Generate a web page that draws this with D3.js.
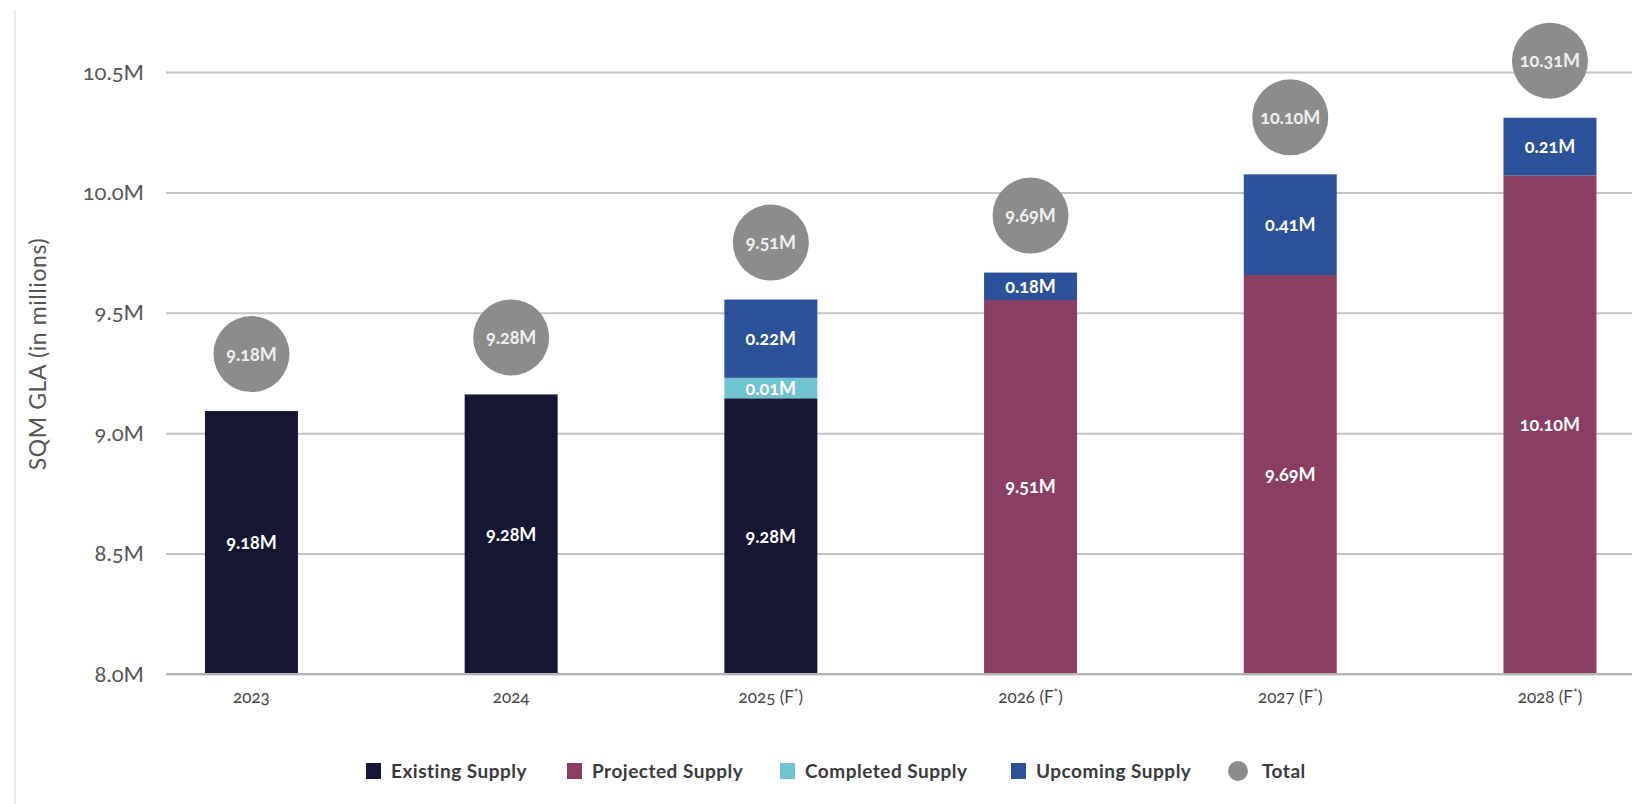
<!DOCTYPE html>
<html>
<head>
<meta charset="utf-8">
<script src="https://cdn.jsdelivr.net/npm/d3@7"></script>
<style>
  body { margin: 0; background: #fff; }
  svg { display: block; font-family: Lato, "Open Sans", sans-serif; font-feature-settings: "onum"; }
</style>
</head>
<body>
<svg width="1632" height="804"></svg>
<script>
const years = ["2023", "2024", "2025", "2026", "2027", "2028"];
const forecast = [false, false, true, true, true, true];

// segment heights as drawn (millions of sqm)
const existing = [9.092, 9.161, 9.145, 0, 0, 0];
const projected = [0, 0, 0, 9.553, 9.657, 10.070];
const completed = [0, 0, 0.085, 0, 0, 0];
const upcoming = [0, 0, 0.325, 0.114, 0.418, 0.240];

// printed labels
const existingLabels = ["9.18M", "9.28M", "9.28M", "", "", ""];
const projectedLabels = ["", "", "", "9.51M", "9.69M", "10.10M"];
const completedLabels = ["", "", "0.01M", "", "", ""];
const upcomingLabels = ["", "", "0.22M", "0.18M", "0.41M", "0.21M"];
const totalLabels = ["9.18M", "9.28M", "9.51M", "9.69M", "10.10M", "10.31M"];

const yTicks = [8.0, 8.5, 9.0, 9.5, 10.0, 10.5];

const keys = ["existing", "projected", "completed", "upcoming"];
const names = { existing: "Existing Supply", projected: "Projected Supply", completed: "Completed Supply", upcoming: "Upcoming Supply" };
const colors = { existing: "#151633", projected: "#8b3e64", completed: "#6fc3d3", upcoming: "#2b5299" };
const labels = { existing: existingLabels, projected: projectedLabels, completed: completedLabels, upcoming: upcomingLabels };
const totalColor = "#8c8c8c";

const data = years.map((year, i) => ({
    year, i,
    existing: existing[i], projected: projected[i],
    completed: completed[i], upcoming: upcoming[i]
}));

const width = 1632;
const height = 804;
const margin = ({ top: 72, right: 0, bottom: 130, left: 166 });

const svg = d3.select("svg")
    .attr("viewBox", [0, 0, width, height]);

const x = d3.scaleBand()
    .domain(years)
    .range([121.6, 1679.8])
    .paddingInner(0.642)
    .paddingOuter(0.321);

const y = d3.scaleLinear()
    .domain([8.0, 10.5])
    .range([height - margin.bottom, margin.top])
    .clamp(true);

// faint frame line on the left
svg.append("line")
    .attr("x1", 15).attr("x2", 15)
    .attr("y1", 10).attr("y2", height)
    .attr("stroke", "#ececec")
    .attr("stroke-width", 2);

// y axis + gridlines
svg.append("g")
    .attr("transform", `translate(${margin.left},0)`)
    .call(d3.axisLeft(y).tickValues(yTicks)
        .tickFormat(d => d3.format(".1f")(d) + "M")
        .tickSize(-(width - margin.left))
        .tickPadding(22))
    .call(g => g.select(".domain").remove())
    .call(g => g.selectAll(".tick line").attr("stroke", "#c4c4c4").attr("stroke-width", 2))
    .call(g => g.selectAll(".tick text")
        .attr("fill", "#555")
        .attr("font-size", 22)
        .attr("font-family", "Lato, sans-serif"));

svg.append("text")
    .attr("transform", `translate(38,354) rotate(-90)`)
    .attr("text-anchor", "middle")
    .attr("dy", "0.35em")
    .attr("fill", "#555")
    .attr("font-size", 23)
    .attr("letter-spacing", 0.6)
    .text("SQM GLA (in millions)");

// stacked bars
const series = d3.stack().keys(keys)(data);

const layer = svg.append("g")
    .selectAll("g")
    .data(series)
    .join("g")
    .attr("fill", d => colors[d.key]);

layer.selectAll("rect")
    .data(d => d.map(s => Object.assign(s, { key: d.key })))
    .join("rect")
    .attr("x", d => x(d.data.year))
    .attr("width", x.bandwidth())
    .attr("y", d => y(d[1]))
    .attr("height", d => Math.max(0, y(d[0]) - y(d[1])));

layer.selectAll("text")
    .data(d => d.filter(s => labels[d.key][s.data.i] !== ""))
    .join("text")
    .attr("x", d => x(d.data.year) + x.bandwidth() / 2)
    .attr("y", d => (y(d[0]) + y(d[1])) / 2)
    .attr("dy", "0.36em")
    .attr("text-anchor", "middle")
    .attr("fill", "#fff")
    .attr("font-size", 18)
    .attr("font-weight", 700)
    .text(d => labels[d.key][d.data.i]);

// total bubbles
const topLayer = series[series.length - 1];
const bubble = svg.append("g")
    .selectAll("g")
    .data(topLayer)
    .join("g")
    .attr("transform", d => `translate(${x(d.data.year) + x.bandwidth() / 2},${y(d[1]) - 57})`);

bubble.append("circle")
    .attr("r", 38)
    .attr("fill", totalColor);

bubble.append("text")
    .attr("text-anchor", "middle")
    .attr("dy", "0.36em")
    .attr("fill", "#f0f0f0")
    .attr("font-size", 18)
    .attr("font-weight", 700)
    .text(d => totalLabels[d.data.i]);

// x axis
const gx = svg.append("g")
    .attr("transform", `translate(0,${y(8.0)})`);

gx.append("line")
    .attr("x1", margin.left).attr("x2", width)
    .attr("stroke", "#b4b4b4").attr("stroke-width", 2);

const xt = gx.selectAll("text")
    .data(years)
    .join("text")
    .attr("x", d => x(d) + x.bandwidth() / 2)
    .attr("y", 23)
    .attr("dy", "0.35em")
    .attr("text-anchor", "middle")
    .attr("fill", "#444")
    .attr("font-size", 17)
    .text(d => d);

xt.filter((d, i) => forecast[i]).each(function () {
    const t = d3.select(this);
    t.append("tspan").text(" (F");
    t.append("tspan").text("*").attr("font-size", 11).attr("baseline-shift", "super");
    t.append("tspan").text(")");
});

// legend
const legendItems = keys.map(k => ({ name: names[k], color: colors[k], shape: "rect" }))
    .concat([{ name: "Total", color: totalColor, shape: "circle" }]);
const legendX = [366, 567, 780, 1011, 1229];

const legend = svg.append("g")
    .attr("transform", "translate(0,771)")
    .selectAll("g")
    .data(legendItems)
    .join("g")
    .attr("transform", (d, i) => `translate(${legendX[i]},0)`);

legend.filter(d => d.shape === "rect").append("rect")
    .attr("y", -8).attr("width", 15).attr("height", 16)
    .attr("fill", d => d.color);

legend.filter(d => d.shape === "circle").append("circle")
    .attr("cx", 9).attr("r", 10)
    .attr("fill", d => d.color);

legend.append("text")
    .attr("x", d => d.shape === "circle" ? 33 : 25)
    .attr("dy", "0.35em")
    .attr("fill", "#3a3a3a")
    .attr("font-size", 19)
    .attr("font-weight", 700)
    .attr("letter-spacing", 0.5)
    .text(d => d.name);
</script>
</body>
</html>
